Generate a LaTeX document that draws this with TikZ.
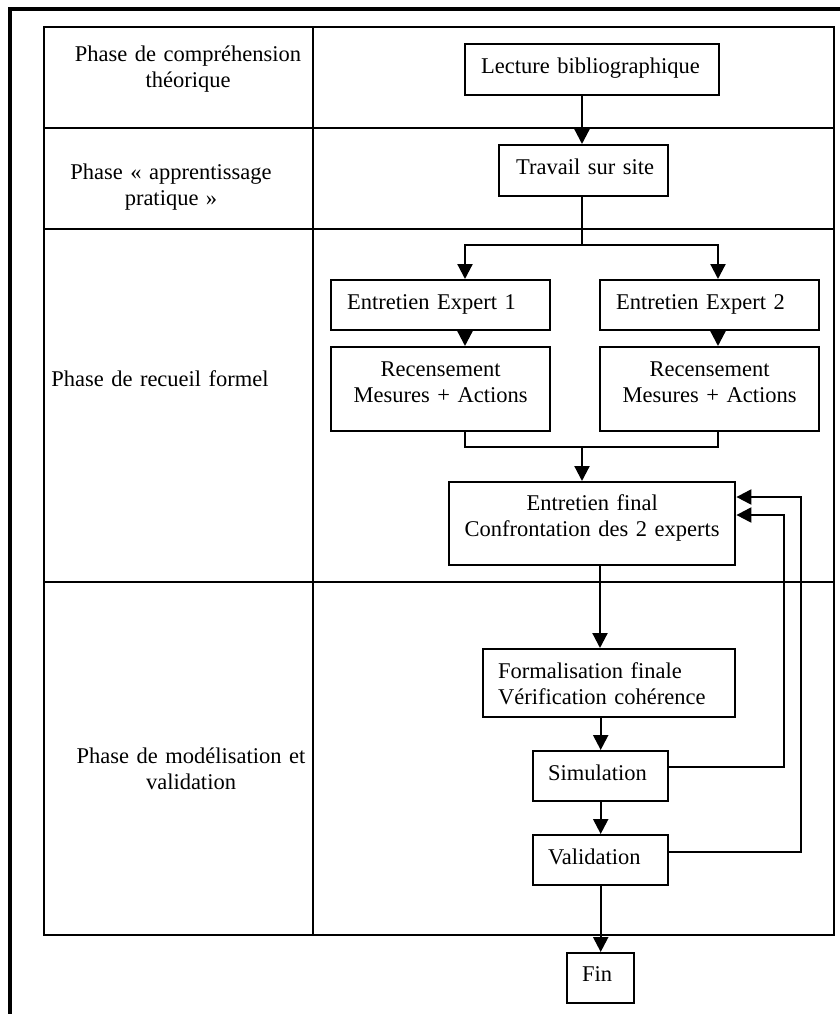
\documentclass[tikz,border=0pt]{standalone}
\usepackage{fontspec}
\setmainfont{Liberation Serif}
\usetikzlibrary{arrows.meta}

\tikzset{
	stepbox/.style={draw,rectangle,line width=1.2pt,anchor=north west,inner ysep=0pt,font=\fontsize{11.25pt}{13pt}\selectfont},
	phase/.style={anchor=base,align=center,text width=130pt,inner sep=0pt,font=\fontsize{11.25pt}{13pt}\selectfont},
	link/.style={line width=1.1pt},
	arr/.style={line width=1.1pt,-{Triangle[length=7.5pt,width=7.5pt]}}
}

\begin{document}
\begin{tikzpicture}[x=0.5pt,y=-0.5pt]
	\useasboundingbox (0,0) rectangle (840,1014);
	% frame and table
	\draw[line width=1.6pt] (10,1014) -- (10,9) -- (840,9);
	\draw[line width=1.2pt] (44,27) rectangle (834,935);
	\draw[line width=1.2pt] (313,27) -- (313,935);
	\draw[line width=1.2pt] (44,128) -- (834,128);
	\draw[line width=1.2pt] (44,229) -- (834,229);
	\draw[line width=1.2pt] (44,582) -- (834,582);
	% phases
	\node[phase] (ph1) at (188,61) {Phase de compréhension\\théorique};
	\node[phase] (ph2) at (171,179) {Phase « apprentissage\\pratique »};
	\node[phase] (ph3) at (160,386) {Phase de recueil formel};
	\node[phase] (ph4) at (191,763) {Phase de modélisation et\\validation};
	% steps
	\node[stepbox,align=left,inner xsep=8pt,text width=111pt,text height=14.5pt,text depth=11pt] (lecture) at (464,43) {Lecture~bibliographique};
	\node[stepbox,align=left,inner xsep=8.5pt,text width=67.5pt,text height=14.5pt,text depth=11pt] (travail) at (498,144) {Travail~sur~site};
	\node[stepbox,align=left,inner xsep=8pt,text width=93.5pt,text height=14.5pt,text depth=10.5pt] (exp1) at (330,279) {Entretien~Expert~1};
	\node[stepbox,align=left,inner xsep=8pt,text width=93.5pt,text height=14.5pt,text depth=10.5pt] (exp2) at (599,279) {Entretien~Expert~2};
	\node[stepbox,align=center,inner xsep=0pt,text width=109.5pt,text height=14.5pt,text depth=27.5pt] (rec1) at (330,346) {Recensement\\Mesures + Actions};
	\node[stepbox,align=center,inner xsep=0pt,text width=109.5pt,text height=14.5pt,text depth=27.5pt] (rec2) at (599,346) {Recensement\\Mesures + Actions};
	\node[stepbox,align=center,inner xsep=0pt,text width=143pt,text height=14pt,text depth=27.5pt] (final) at (448,481) {Entretien final\\Confrontation des 2 experts};
	\node[stepbox,align=left,inner xsep=7.5pt,text width=111pt,text height=14.5pt,text depth=19.5pt] (formal) at (482,648) {Formalisation finale\\Vérification cohérence};
	\node[stepbox,align=left,inner xsep=7.5pt,text width=52.5pt,text height=14.5pt,text depth=10.5pt] (simul) at (532,750) {Simulation};
	\node[stepbox,align=left,inner xsep=7.5pt,text width=52.5pt,text height=14.5pt,text depth=10.5pt] (valid) at (532,834) {Validation};
	\node[stepbox,align=left,inner xsep=7.5pt,text width=18.5pt,text height=14pt,text depth=11pt] (fin) at (566,952) {Fin};
	% branch points
	\coordinate (split) at (582,245);
	\coordinate (join) at (582,447);
	\coordinate (colA) at (465,0);
	\coordinate (colB) at (718,0);
	\coordinate (colC) at (600,0);
	\coordinate (loopA) at (784,515);
	\coordinate (loopB) at (801,497);
	% connectors
	\draw[arr] (split |- lecture.south) -- (split |- travail.north);
	\draw[link] (split |- travail.south) -- (split);
	\draw[arr] (split) -| (colA |- exp1.north);
	\draw[arr] (split) -| (colB |- exp2.north);
	\draw[arr] (colA |- exp1.south) -- (colA |- rec1.north);
	\draw[arr] (colB |- exp2.south) -- (colB |- rec2.north);
	\draw[link] (colA |- rec1.south) |- (join) -| (colB |- rec2.south);
	\draw[arr] (join) -- (join |- final.north);
	\draw[arr] (colC |- final.south) -- (colC |- formal.north);
	\draw[arr] (simul.north |- formal.south) -- (simul.north);
	\draw[arr] (simul.south) -- (valid.north);
	\draw[arr] (valid.south) -- (fin.north);
	\draw[arr] ([yshift=4.5pt]simul.east) -| (loopA) -- (loopA -| final.east);
	\draw[arr] ([yshift=4pt]valid.east) -| (loopB) -- (loopB -| final.east);
\end{tikzpicture}
\end{document}
